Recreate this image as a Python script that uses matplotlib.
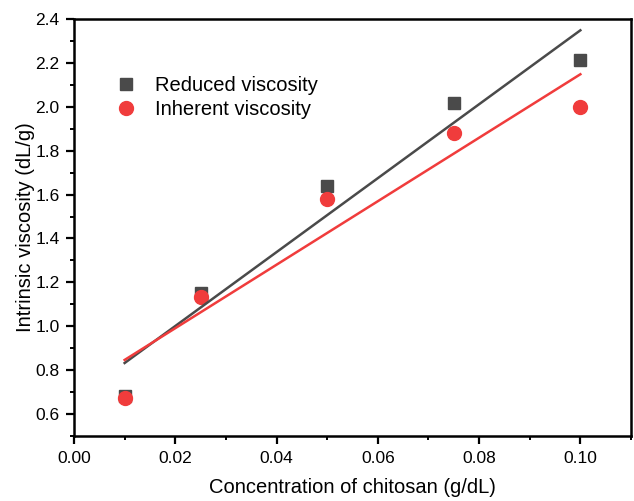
import numpy as np
import matplotlib
matplotlib.use("Agg")
import matplotlib.pyplot as plt
from matplotlib.ticker import MultipleLocator

# data
conc = [0.01, 0.025, 0.05, 0.075, 0.10]
reduced = [0.68, 1.15, 1.64, 2.015, 2.215]
inherent = [0.675, 1.135, 1.58, 1.88, 2.0]

GRAY = "#4a4a4a"
RED = "#f03c3c"

plt.rcParams["font.family"] = ["Liberation Sans", "DejaVu Sans"]

fig = plt.figure(figsize=(6.34, 5.01), dpi=100)
ax = fig.add_axes([74 / 634, 1 - 436 / 501, (631 - 74) / 634, (436 - 19) / 501])

ax.plot(conc, reduced, "s", color=GRAY, ms=8.5, mec=GRAY, label="Reduced viscosity")
ax.plot(conc, inherent, "o", color=RED, ms=10, mec=RED, label="Inherent viscosity")

# linear fits
x_fit = np.array([conc[0], conc[-1]])
for y, c in ((reduced, GRAY), (inherent, RED)):
    k, b = np.polyfit(conc, y, 1)
    ax.plot(x_fit, k * x_fit + b, "-", color=c, lw=1.8)

ax.set_xlim(0, 0.11)
ax.set_ylim(0.5, 2.4)
ax.xaxis.set_major_locator(MultipleLocator(0.02))
ax.xaxis.set_minor_locator(MultipleLocator(0.01))
ax.yaxis.set_major_locator(MultipleLocator(0.2))
ax.yaxis.set_minor_locator(MultipleLocator(0.1))
ax.xaxis.set_major_formatter(matplotlib.ticker.FormatStrFormatter("%.2f"))
ax.yaxis.set_major_formatter(matplotlib.ticker.FormatStrFormatter("%.1f"))

for s in ax.spines.values():
    s.set_linewidth(1.8)
ax.tick_params(which="major", direction="out", length=5.5, width=1.6, labelsize=12.5, pad=5)
ax.tick_params(which="minor", direction="out", length=3, width=1.4)

ax.set_xlabel("Concentration of chitosan (g/dL)", fontsize=14.5, labelpad=9)
ax.set_ylabel("Intrinsic viscosity (dL/g)", fontsize=14.5, labelpad=0)

ax.legend(loc="upper left", bbox_to_anchor=(0.058, 0.882), frameon=False,
          fontsize=14.5, handletextpad=0.8, labelspacing=0.25, borderaxespad=0,
          handlelength=1.2)

fig.savefig("out.png", dpi=100)
